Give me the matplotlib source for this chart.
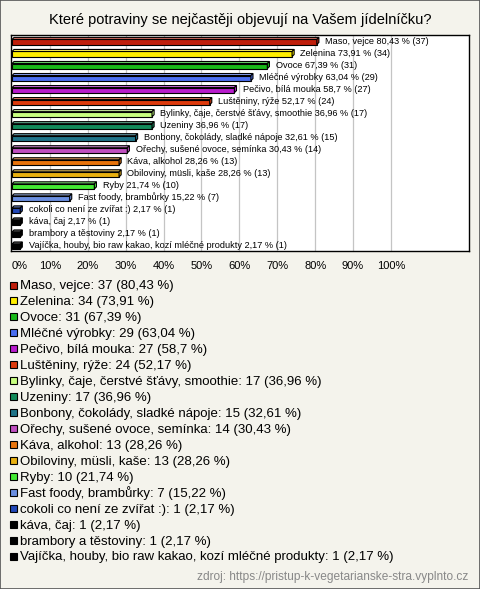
import numpy as np
import matplotlib
matplotlib.use("Agg")
import matplotlib.pyplot as plt
from matplotlib.patches import Polygon as Pol, Rectangle
from matplotlib.colors import to_rgb

plt.rcParams["font.family"] = ["Liberation Sans", "DejaVu Sans"]

title = "Které potraviny se nejčastěji objevují na Vašem jídelníčku?"
source = "zdroj: https://pristup-k-vegetarianske-stra.vyplnto.cz"
total = 46

categories = [
    "Maso, vejce",
    "Zelenina",
    "Ovoce",
    "Mléčné výrobky",
    "Pečivo, bílá mouka",
    "Luštěniny, rýže",
    "Bylinky, čaje, čerstvé šťávy, smoothie",
    "Uzeniny",
    "Bonbony, čokolády, sladké nápoje",
    "Ořechy, sušené ovoce, semínka",
    "Káva, alkohol",
    "Obiloviny, müsli, kaše",
    "Ryby",
    "Fast foody, brambůrky",
    "cokoli co není ze zvířat :)",
    "káva, čaj",
    "brambory a těstoviny",
    "Vajíčka, houby, bio raw kakao, kozí mléčné produkty",
]
counts = [37, 34, 31, 29, 27, 24, 17, 17, 15, 14, 13, 13, 10, 7, 1, 1, 1, 1]
colors = [
    "#bf1e0b", "#ffee00", "#19b919", "#4a6ef0", "#b81ccc", "#de3a0c",
    "#c8ff80", "#128a5a", "#1f7488", "#c050c0", "#e8740c", "#e8b010",
    "#44ea33", "#6a8ee0", "#2248b8", "#000000", "#000000", "#000000",
]
xticks = [0, 10, 20, 30, 40, 50, 60, 70, 80, 90, 100]


def pct_text(n):
    s = "%.2f" % (100.0 * n / total)
    s = s.rstrip("0").rstrip(".")
    return s.replace(".", ",")


def lighter(c, f=0.35):
    r, g, b = to_rgb(c)
    return (r + (1 - r) * f, g + (1 - g) * f, b + (1 - b) * f)


fig = plt.figure(figsize=(4.8, 5.89), dpi=100, facecolor="#f4f3ec")
fig.patches.append(
    Rectangle((0, 0), 1, 1, transform=fig.transFigure, fill=False,
              edgecolor="#555555", linewidth=1.2)
)
fig.text(0.5, 1 - 20 / 589, title, ha="center", va="center", fontsize=10.5)

ax = fig.add_axes([11 / 480, 1 - 251 / 589, 458 / 480, 216 / 589])
ax.set_facecolor("white")
ax.set_xlim(-0.26, 120.6)
ax.set_ylim(17.45, -0.5)
for x in xticks[1:]:
    ax.axvline(x, color="#c4c4c4", linewidth=0.9, zorder=0)

h = 0.42
dx = 0.55
dy = 0.17
for i, (name, n, c) in enumerate(zip(categories, counts, colors)):
    w = 100.0 * n / total
    yc = i + 0.08
    top = yc - h / 2
    bot = yc + h / 2
    ax.add_patch(Rectangle((0, top), w, h, facecolor=c, edgecolor="black",
                           linewidth=0.8, zorder=3))
    ax.add_patch(Pol([(0, top), (w, top), (w + dx, top - dy), (dx, top - dy)],
                     closed=True, facecolor=lighter(c), edgecolor="black",
                     linewidth=0.8, zorder=3))
    ax.add_patch(Pol([(w, top), (w + dx, top - dy), (w + dx, bot - dy), (w, bot)],
                     closed=True, facecolor=c, edgecolor="black",
                     linewidth=0.8, zorder=3))
    ax.text(w + 2.2, i, "%s %s %% (%d)" % (name, pct_text(n), n),
            ha="left", va="center", fontsize=6.6, zorder=4)

ax.set_yticks([])
ax.set_xticks(xticks)
ax.set_xticklabels(["%d%%" % x for x in xticks], fontsize=8)
ax.tick_params(axis="x", length=0, pad=7)
ax.get_xticklabels()[0].set_horizontalalignment("left")
for sp in ax.spines.values():
    sp.set_color("black")
    sp.set_linewidth(1.0)

# legend
for i, (name, n, c) in enumerate(zip(categories, counts, colors)):
    yp = 285 + i * 15.95
    fig.patches.append(
        Rectangle((9.5 / 480, 1 - (yp + 3.5) / 589), 7 / 480, 7 / 589,
                  transform=fig.transFigure, facecolor=c, edgecolor="black",
                  linewidth=0.8)
    )
    fig.text(20 / 480, 1 - (yp + 4.3) / 589,
             "%s: %d (%s %%)" % (name, n, pct_text(n)),
             ha="left", va="baseline", fontsize=9.5)

fig.text(468 / 480, 1 - 577 / 589, source, ha="right", va="center",
         fontsize=8.6, color="#888888")

fig.savefig("out.png", dpi=100, facecolor=fig.get_facecolor())
